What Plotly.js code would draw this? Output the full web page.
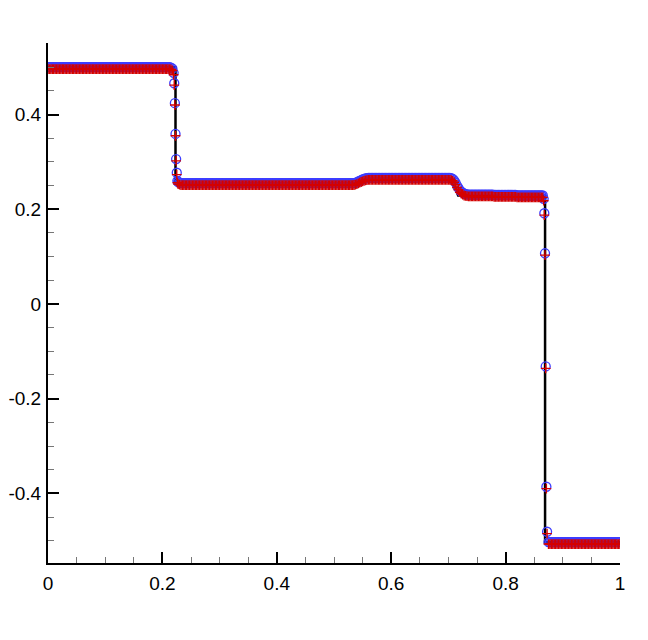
<!DOCTYPE html>
<html>
<head>
<meta charset="utf-8">
<script src="https://cdn.plot.ly/plotly-3.0.1.min.js"></script>
<style>
  html, body { margin: 0; padding: 0; background: #ffffff; }
  #chart { width: 648px; height: 640px; }
</style>
</head>
<body>
<div id="chart"></div>
<script>
// Sample positions shared by both numerical series
const xPts = [
  0,0.0025,0.005,0.0075,0.01,0.0125,0.015,0.0175,
  0.02,0.0225,0.025,0.0275,0.03,0.0325,0.035,0.0375,
  0.04,0.0425,0.045,0.0475,0.05,0.0525,0.055,0.0575,
  0.06,0.0625,0.065,0.0675,0.07,0.0725,0.075,0.0775,
  0.08,0.0825,0.085,0.0875,0.09,0.0925,0.095,0.0975,
  0.1,0.1025,0.105,0.1075,0.11,0.1125,0.115,0.1175,
  0.12,0.1225,0.125,0.1275,0.13,0.1325,0.135,0.1375,
  0.14,0.1425,0.145,0.1475,0.15,0.1525,0.155,0.1575,
  0.16,0.1625,0.165,0.1675,0.17,0.1725,0.175,0.1775,
  0.18,0.1825,0.185,0.1875,0.19,0.1925,0.195,0.1975,
  0.2,0.2025,0.205,0.2075,0.21,0.2125,0.215,0.2175,
  0.2196,0.2207,0.2218,0.2229,0.224,0.2251,
  0.2262,0.2275,0.23,0.2325,0.235,0.2375,
  0.24,0.2425,0.245,0.2475,0.25,0.2525,0.255,0.2575,
  0.26,0.2625,0.265,0.2675,0.27,0.2725,0.275,0.2775,
  0.28,0.2825,0.285,0.2875,0.29,0.2925,0.295,0.2975,
  0.3,0.3025,0.305,0.3075,0.31,0.3125,0.315,0.3175,
  0.32,0.3225,0.325,0.3275,0.33,0.3325,0.335,0.3375,
  0.34,0.3425,0.345,0.3475,0.35,0.3525,0.355,0.3575,
  0.36,0.3625,0.365,0.3675,0.37,0.3725,0.375,0.3775,
  0.38,0.3825,0.385,0.3875,0.39,0.3925,0.395,0.3975,
  0.4,0.4025,0.405,0.4075,0.41,0.4125,0.415,0.4175,
  0.42,0.4225,0.425,0.4275,0.43,0.4325,0.435,0.4375,
  0.44,0.4425,0.445,0.4475,0.45,0.4525,0.455,0.4575,
  0.46,0.4625,0.465,0.4675,0.47,0.4725,0.475,0.4775,
  0.48,0.4825,0.485,0.4875,0.49,0.4925,0.495,0.4975,
  0.5,0.5025,0.505,0.5075,0.51,0.5125,0.515,0.5175,
  0.52,0.5225,0.525,0.5275,0.53,0.5325,
  0.535,0.5375,0.54,0.5425,0.545,0.5475,0.55,0.5525,0.555,0.5575,0.56,
  0.5625,0.565,0.5675,0.57,0.5725,0.575,0.5775,
  0.58,0.5825,0.585,0.5875,0.59,0.5925,0.595,0.5975,
  0.6,0.6025,0.605,0.6075,0.61,0.6125,0.615,0.6175,
  0.62,0.6225,0.625,0.6275,0.63,0.6325,0.635,0.6375,
  0.64,0.6425,0.645,0.6475,0.65,0.6525,0.655,0.6575,
  0.66,0.6625,0.665,0.6675,0.67,0.6725,0.675,0.6775,
  0.68,0.6825,0.685,0.6875,0.69,0.6925,0.695,0.6975,
  0.7,0.7025,
  0.705,0.7075,0.71,0.7125,0.715,0.7175,0.72,0.7225,0.725,0.7275,0.73,0.7325,0.735,
  0.7375,
  0.74,0.7425,0.745,0.7475,0.75,0.7525,0.755,0.7575,
  0.76,0.7625,0.765,0.7675,0.77,0.7725,0.775,0.7775,
  0.78,0.7825,0.785,0.7875,0.79,0.7925,0.795,0.7975,
  0.8,0.8025,0.805,0.8075,0.81,0.8125,0.815,0.8175,
  0.82,0.8225,0.825,0.8275,0.83,0.8325,0.835,0.8375,
  0.84,0.8425,0.845,0.8475,0.85,0.8525,0.855,0.8575,
  0.86,0.8625,0.865,
  0.8665,0.8677,0.8689,0.8701,0.8713,0.8725,
  0.875,0.8775,
  0.88,0.8825,0.885,0.8875,0.89,0.8925,0.895,0.8975,
  0.9,0.9025,0.905,0.9075,0.91,0.9125,0.915,0.9175,
  0.92,0.9225,0.925,0.9275,0.93,0.9325,0.935,0.9375,
  0.94,0.9425,0.945,0.9475,0.95,0.9525,0.955,0.9575,
  0.96,0.9625,0.965,0.9675,0.97,0.9725,0.975,0.9775,
  0.98,0.9825,0.985,0.9875,0.99,0.9925,0.995,0.9975,
  1
];

// Blue open-circle series
const blueY = [
  0.5,0.5,0.5,0.5,0.5,0.5,0.5,0.5,
  0.5,0.5,0.5,0.5,0.5,0.5,0.5,0.5,
  0.5,0.5,0.5,0.5,0.5,0.5,0.5,0.5,
  0.5,0.5,0.5,0.5,0.5,0.5,0.5,0.5,
  0.5,0.5,0.5,0.5,0.5,0.5,0.5,0.5,
  0.5,0.5,0.5,0.5,0.5,0.5,0.5,0.5,
  0.5,0.5,0.5,0.5,0.5,0.5,0.5,0.5,
  0.5,0.5,0.5,0.5,0.5,0.5,0.5,0.5,
  0.5,0.5,0.5,0.5,0.5,0.5,0.5,0.5,
  0.5,0.5,0.5,0.5,0.5,0.5,0.5,0.5,
  0.5,0.5,0.5,0.5,0.5,0.5,0.499,0.497,
  0.488,0.466,0.424,0.359,0.306,0.277,
  0.26,0.257,0.256,0.255,0.255,0.255,
  0.255,0.255,0.255,0.255,0.255,0.255,0.255,0.255,
  0.255,0.255,0.255,0.255,0.255,0.255,0.255,0.255,
  0.255,0.255,0.255,0.255,0.255,0.255,0.255,0.255,
  0.255,0.255,0.255,0.255,0.255,0.255,0.255,0.255,
  0.255,0.255,0.255,0.255,0.255,0.255,0.255,0.255,
  0.255,0.255,0.255,0.255,0.255,0.255,0.255,0.255,
  0.255,0.255,0.255,0.255,0.255,0.255,0.255,0.255,
  0.255,0.255,0.255,0.255,0.255,0.255,0.255,0.255,
  0.255,0.255,0.255,0.255,0.255,0.255,0.255,0.255,
  0.255,0.255,0.255,0.255,0.255,0.255,0.255,0.255,
  0.255,0.255,0.255,0.255,0.255,0.255,0.255,0.255,
  0.255,0.255,0.255,0.255,0.255,0.255,0.255,0.255,
  0.255,0.255,0.255,0.255,0.255,0.255,0.255,0.255,
  0.255,0.255,0.255,0.255,0.255,0.255,0.255,0.255,
  0.255,0.255,0.255,0.255,0.255,0.255,
  0.2552,0.2558,0.257,0.2585,0.26,0.2615,0.263,0.264,0.265,0.2655,0.266,
  0.266,0.266,0.266,0.266,0.266,0.266,0.266,
  0.266,0.266,0.266,0.266,0.266,0.266,0.266,0.266,
  0.266,0.266,0.266,0.266,0.266,0.266,0.266,0.266,
  0.266,0.266,0.266,0.266,0.266,0.266,0.266,0.266,
  0.266,0.266,0.266,0.266,0.266,0.266,0.266,0.266,
  0.266,0.266,0.266,0.266,0.266,0.266,0.266,0.266,
  0.266,0.266,0.266,0.266,0.266,0.266,0.266,0.266,
  0.266,0.266,
  0.2655,0.264,0.261,0.256,0.25,0.245,0.24,0.237,0.235,0.233,0.232,0.2315,0.231,
  0.231,
  0.231,0.231,0.231,0.231,0.231,0.231,0.231,0.231,
  0.231,0.231,0.231,0.231,0.231,0.231,0.231,0.231,
  0.23,0.23,0.23,0.23,0.23,0.23,0.23,0.23,
  0.23,0.23,0.23,0.23,0.23,0.23,0.23,0.23,
  0.229,0.229,0.229,0.229,0.229,0.229,0.229,0.229,
  0.229,0.229,0.229,0.229,0.229,0.229,0.229,0.229,
  0.229,0.229,0.229,
  0.222,0.1915,0.107,-0.132,-0.386,-0.481,
  -0.503,-0.503,
  -0.503,-0.503,-0.503,-0.503,-0.503,-0.503,-0.503,-0.503,
  -0.503,-0.503,-0.503,-0.503,-0.503,-0.503,-0.503,-0.503,
  -0.503,-0.503,-0.503,-0.503,-0.503,-0.503,-0.503,-0.503,
  -0.503,-0.503,-0.503,-0.503,-0.503,-0.503,-0.503,-0.503,
  -0.503,-0.503,-0.503,-0.503,-0.503,-0.503,-0.503,-0.503,
  -0.503,-0.503,-0.503,-0.503,-0.503,-0.503,-0.503,-0.503,
  -0.503
];

// Red plus series
const redY = [
  0.496,0.496,0.496,0.496,0.496,0.496,0.496,0.496,
  0.496,0.496,0.496,0.496,0.496,0.496,0.496,0.496,
  0.496,0.496,0.496,0.496,0.496,0.496,0.496,0.496,
  0.496,0.496,0.496,0.496,0.496,0.496,0.496,0.496,
  0.496,0.496,0.496,0.496,0.496,0.496,0.496,0.496,
  0.496,0.496,0.496,0.496,0.496,0.496,0.496,0.496,
  0.496,0.496,0.496,0.496,0.496,0.496,0.496,0.496,
  0.496,0.496,0.496,0.496,0.496,0.496,0.496,0.496,
  0.496,0.496,0.496,0.496,0.496,0.496,0.496,0.496,
  0.496,0.496,0.496,0.496,0.496,0.496,0.496,0.496,
  0.496,0.496,0.496,0.496,0.496,0.496,0.495,0.493,
  0.484,0.462,0.42,0.355,0.302,0.273,
  0.256,0.253,0.252,0.251,0.251,0.251,
  0.251,0.251,0.251,0.251,0.251,0.251,0.251,0.251,
  0.251,0.251,0.251,0.251,0.251,0.251,0.251,0.251,
  0.251,0.251,0.251,0.251,0.251,0.251,0.251,0.251,
  0.251,0.251,0.251,0.251,0.251,0.251,0.251,0.251,
  0.251,0.251,0.251,0.251,0.251,0.251,0.251,0.251,
  0.251,0.251,0.251,0.251,0.251,0.251,0.251,0.251,
  0.251,0.251,0.251,0.251,0.251,0.251,0.251,0.251,
  0.251,0.251,0.251,0.251,0.251,0.251,0.251,0.251,
  0.251,0.251,0.251,0.251,0.251,0.251,0.251,0.251,
  0.251,0.251,0.251,0.251,0.251,0.251,0.251,0.251,
  0.251,0.251,0.251,0.251,0.251,0.251,0.251,0.251,
  0.251,0.251,0.251,0.251,0.251,0.251,0.251,0.251,
  0.251,0.251,0.251,0.251,0.251,0.251,0.251,0.251,
  0.251,0.251,0.251,0.251,0.251,0.251,0.251,0.251,
  0.251,0.251,0.251,0.251,0.251,0.251,
  0.2512,0.2518,0.253,0.2545,0.256,0.2575,0.259,0.26,0.261,0.2615,0.262,
  0.262,0.262,0.262,0.262,0.262,0.262,0.262,
  0.262,0.262,0.262,0.262,0.262,0.262,0.262,0.262,
  0.262,0.262,0.262,0.262,0.262,0.262,0.262,0.262,
  0.262,0.262,0.262,0.262,0.262,0.262,0.262,0.262,
  0.262,0.262,0.262,0.262,0.262,0.262,0.262,0.262,
  0.262,0.262,0.262,0.262,0.262,0.262,0.262,0.262,
  0.262,0.262,0.262,0.262,0.262,0.262,0.262,0.262,
  0.262,0.262,
  0.2615,0.26,0.257,0.252,0.246,0.241,0.236,0.233,0.231,0.229,0.228,0.2275,0.227,
  0.227,
  0.227,0.227,0.227,0.227,0.227,0.227,0.227,0.227,
  0.227,0.227,0.227,0.227,0.227,0.227,0.227,0.227,
  0.226,0.226,0.226,0.226,0.226,0.226,0.226,0.226,
  0.226,0.226,0.226,0.226,0.226,0.226,0.226,0.226,
  0.225,0.225,0.225,0.225,0.225,0.225,0.225,0.225,
  0.225,0.225,0.225,0.225,0.225,0.225,0.225,0.225,
  0.225,0.225,0.225,
  0.218,0.1875,0.103,-0.136,-0.39,-0.485,
  -0.507,-0.507,
  -0.507,-0.507,-0.507,-0.507,-0.507,-0.507,-0.507,-0.507,
  -0.507,-0.507,-0.507,-0.507,-0.507,-0.507,-0.507,-0.507,
  -0.507,-0.507,-0.507,-0.507,-0.507,-0.507,-0.507,-0.507,
  -0.507,-0.507,-0.507,-0.507,-0.507,-0.507,-0.507,-0.507,
  -0.507,-0.507,-0.507,-0.507,-0.507,-0.507,-0.507,-0.507,
  -0.507,-0.507,-0.507,-0.507,-0.507,-0.507,-0.507,-0.507,
  -0.507
];

// Exact (black line) solution
const exactX = [0, 0.2229, 0.2229, 0.535, 0.54, 0.545, 0.55, 0.555, 0.56, 0.705, 0.712, 0.717, 0.869, 0.869, 1];
const exactY = [0.5, 0.5, 0.254, 0.254, 0.2555, 0.259, 0.262, 0.264, 0.265, 0.265, 0.245, 0.229, 0.229, -0.503, -0.503];

// Tick labels
const xTickVals = [0, 0.2, 0.4, 0.6, 0.8, 1];
const xTickText = ['0', '0.2', '0.4', '0.6', '0.8', '1'];
const yTickVals = [-0.4, -0.2, 0, 0.2, 0.4];
const yTickText = ['-0.4', '-0.2', '0', '0.2', '0.4'];

const traces = [
  {
    x: exactX, y: exactY, type: 'scatter', mode: 'lines',
    line: { color: '#000000', width: 2.5 }, hoverinfo: 'skip'
  },
  {
    x: xPts, y: blueY, type: 'scatter', mode: 'markers',
    marker: { symbol: 'circle-open', size: 9, color: '#3c3cff', line: { color: '#3c3cff', width: 1.3 } }
  },
  {
    x: xPts, y: redY, type: 'scatter', mode: 'markers',
    marker: { symbol: 'cross-thin-open', size: 7, color: '#d40000', line: { color: '#d40000', width: 1.4 } }
  }
];

const axisFont = { family: 'Liberation Sans, Arial, Helvetica, sans-serif', size: 19, color: '#000000' };

const layout = {
  width: 648, height: 640,
  margin: { l: 48, r: 28, t: 43, b: 77 },
  paper_bgcolor: '#ffffff', plot_bgcolor: '#ffffff',
  showlegend: false,
  xaxis: {
    range: [0, 1], tickmode: 'array', tickvals: xTickVals, ticktext: xTickText,
    ticks: 'inside', ticklen: 11, tickwidth: 2, tickcolor: '#000000',
    showline: true, linewidth: 2, linecolor: '#000000', mirror: false,
    showgrid: false, zeroline: false, tickfont: axisFont, ticklabelstandoff: 2,
    minor: { tickmode: 'linear', tick0: 0, dtick: 0.05, ticks: 'inside', ticklen: 6, tickwidth: 1, tickcolor: '#777777', showgrid: false }
  },
  yaxis: {
    range: [-0.547, 0.551], tickmode: 'array', tickvals: yTickVals, ticktext: yTickText,
    ticks: 'inside', ticklen: 11, tickwidth: 2, tickcolor: '#000000',
    showline: true, linewidth: 2, linecolor: '#000000', mirror: false,
    showgrid: false, zeroline: false, tickfont: axisFont, ticklabelstandoff: 1,
    minor: { tickmode: 'linear', tick0: 0, dtick: 0.05, ticks: 'inside', ticklen: 6, tickwidth: 1, tickcolor: '#777777', showgrid: false }
  }
};

Plotly.newPlot('chart', traces, layout, { staticPlot: true, displayModeBar: false });
</script>
</body>
</html>
